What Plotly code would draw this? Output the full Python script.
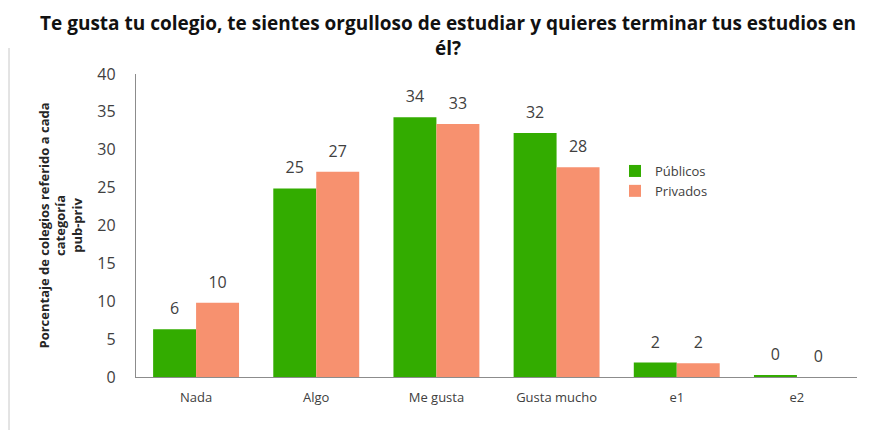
import plotly.graph_objects as go

categories = ["Nada", "Algo", "Me gusta", "Gusta mucho", "e1", "e2"]
publicos = [6.3, 24.9, 34.3, 32.2, 1.9, 0.2]
privados = [9.8, 27.1, 33.4, 27.7, 1.8, 0.0]
series_names = ["Públicos", "Privados"]
y_ticks = [0, 5, 10, 15, 20, 25, 30, 35, 40]

title_text = ("Te gusta tu colegio, te sientes orgulloso de estudiar y quieres terminar tus estudios en"
              "<br>él?")
y_title = "Porcentaje de colegios referido a cada<br>categoría<br>pub-priv"

GREEN = "#33AC00"
SALMON = "#F7916F"
FONT = "Open Sans"

# page body has an 8px margin; work in window pixels and convert
OFF = 8
W, H = 862, 422
PLOT_L, PLOT_R, PLOT_T, PLOT_B = 136, 857, 74, 377  # window pixels
ML = PLOT_L - OFF
MT = PLOT_T - OFF
MR = W - (PLOT_R - OFF)
MB = H - (PLOT_B - OFF)
PW, PH = PLOT_R - PLOT_L, PLOT_B - PLOT_T


def px_x(px):
    return (px - PLOT_L) / PW


def px_y(py):
    return (PLOT_B - py) / PH


fig = go.Figure()
for name, vals, col, grp in [(series_names[0], publicos, GREEN, "a"),
                             (series_names[1], privados, SALMON, "b")]:
    fig.add_trace(go.Bar(
        x=categories, y=vals, name=name, marker=dict(color=col, line=dict(width=0)),
        offsetgroup=grp, hoverinfo="x+y",
    ))
for vals, grp in [(publicos, "a"), (privados, "b")]:
    fig.add_trace(go.Scatter(
        x=categories, y=vals, mode="markers+text", offsetgroup=grp,
        text=[f"{v:.0f}" for v in vals], textposition="top center",
        textfont=dict(family=FONT, size=16, color="#404040"),
        marker=dict(size=16, opacity=0), showlegend=False, hoverinfo="skip",
    ))

fig.update_layout(
    width=W, height=H,
    margin=dict(l=ML, r=MR, t=MT, b=MB, autoexpand=False),
    paper_bgcolor="white", plot_bgcolor="white",
    barmode="group", bargap=0.285, bargroupgap=0,
    scattermode="group", scattergap=0.285,
    font=dict(family=FONT, color="#404040"),
    legend=dict(x=px_x(615), y=px_y(156), xanchor="left", yanchor="top",
                font=dict(family=FONT, size=13, color="#404040"),
                bgcolor="rgba(0,0,0,0)", tracegroupgap=0),
    showlegend=True,
)
fig.update_xaxes(
    showline=True, linecolor="#8c8c8c", linewidth=1.3, ticks="",
    tickfont=dict(family=FONT, size=13, color="#404040"),
    ticklabelstandoff=8, showgrid=False, zeroline=False,
)
fig.update_yaxes(
    range=[0, 40], tickvals=y_ticks, showline=True, linecolor="#8c8c8c", linewidth=1.3,
    ticks="", tickfont=dict(family=FONT, size=16, color="#404040"),
    ticklabelstandoff=16, showgrid=False, zeroline=False,
)

fig.add_annotation(text=title_text, xref="paper", yref="paper", x=px_x(448), y=px_y(OFF + 1),
                   xanchor="center", yanchor="top", showarrow=False, borderpad=0,
                   font=dict(family=FONT, size=19, color="#111111", weight="bold"))
fig.add_annotation(text=y_title, xref="paper", yref="paper", x=px_x(60), y=0.5,
                   xanchor="center", yanchor="middle", showarrow=False, textangle=-90,
                   font=dict(family=FONT, size=13, color="#262626", weight="bold"))

fig.add_shape(type="line", xref="paper", yref="paper", x0=px_x(9), x1=px_x(9),
              y0=px_y(48), y1=px_y(440), line=dict(color="#c8c8c8", width=1))

fig.write_html("out.html")
